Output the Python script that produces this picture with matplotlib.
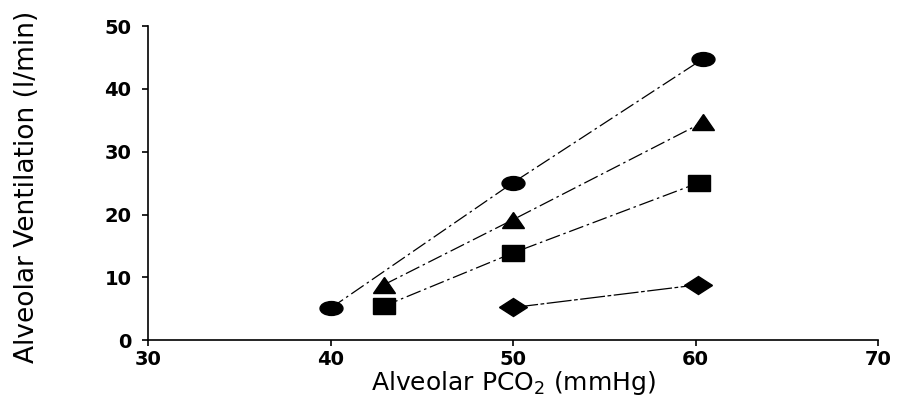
import matplotlib
matplotlib.use("Agg")
import matplotlib.pyplot as plt
from matplotlib.markers import MarkerStyle
from matplotlib.transforms import Affine2D

# data
circle_x = [40, 50, 60.4]
circle_y = [5.1, 25.1, 44.8]
triangle_x = [42.9, 50, 60.4]
triangle_y = [8.8, 19.2, 34.7]
square_x = [42.9, 50, 60.2]
square_y = [5.4, 13.9, 25.1]
diamond_x = [50, 60.1]
diamond_y = [5.2, 8.8]

x_ticks = [30, 40, 50, 60, 70]
y_ticks = [0, 10, 20, 30, 40, 50]

plt.rcParams['font.family'] = ['DejaVu Sans']

fig = plt.figure(figsize=(8.98, 4.03), dpi=100)
ax = fig.add_axes([0.165, 0.156, 0.813, 0.779])


def squashed(shape, sx):
    return MarkerStyle(shape, transform=Affine2D().scale(sx, 1.0))


dash = (0, (12, 3, 2, 3))
ax.plot(circle_x, circle_y, color='black', lw=0.9, linestyle=dash,
        marker=squashed('o', 1.65), ms=10, mfc='black', mec='black')
ax.plot(triangle_x, triangle_y, color='black', lw=0.9, linestyle=dash,
        marker=squashed('^', 1.5), ms=11, mfc='black', mec='black')
ax.plot(square_x, square_y, color='black', lw=0.9, linestyle=dash,
        marker=squashed('s', 1.35), ms=12, mfc='black', mec='black')
ax.plot(diamond_x, diamond_y, color='black', lw=0.9, linestyle=(0, (20, 2, 3, 2)),
        marker=squashed('D', 1.6), ms=9, mfc='black', mec='black')

ax.set_xlim(30, 70)
ax.set_ylim(0, 50)
ax.set_xticks(x_ticks)
ax.set_yticks(y_ticks)
ax.spines['top'].set_visible(False)
ax.spines['right'].set_visible(False)
ax.spines['left'].set_linewidth(1.2)
ax.spines['bottom'].set_linewidth(1.2)
ax.tick_params(axis='both', direction='out', length=4, width=1.2, labelsize=14)
ax.tick_params(axis='y', pad=8)
ax.tick_params(axis='x', pad=3)
for lab in ax.get_xticklabels() + ax.get_yticklabels():
    lab.set_fontweight('bold')

ax.set_xlabel('Alveolar PCO$_2$ (mmHg)', fontsize=18, labelpad=0)
ax.set_ylabel('Alveolar Ventilation (l/min)', fontsize=19)
ax.yaxis.set_label_coords(-0.148, 0.487)

fig.savefig('out.png', dpi=100)
